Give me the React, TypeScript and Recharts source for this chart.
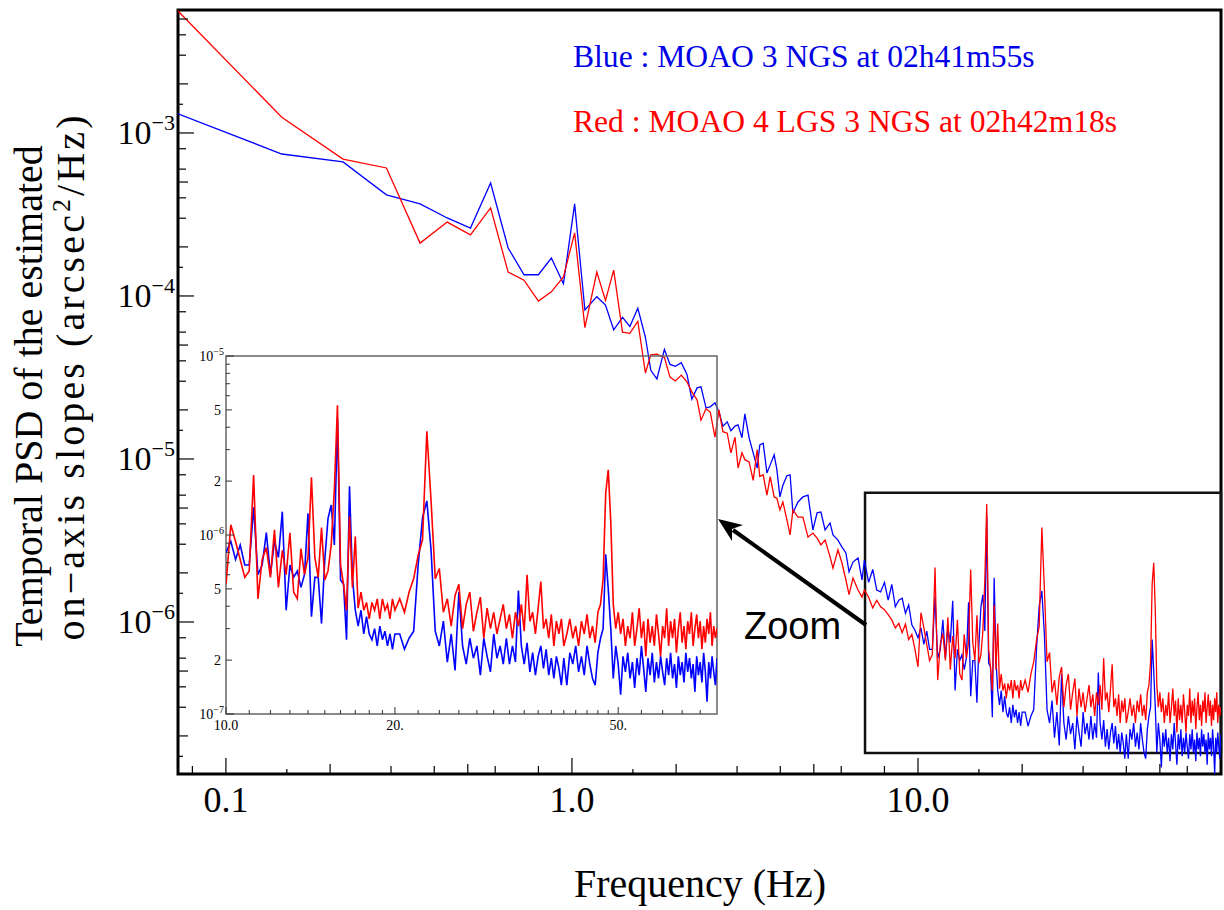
import React from 'react';
import { LineChart, Line, XAxis, YAxis, ReferenceArea } from 'recharts';

const SERIF = '"Liberation Serif", "Times New Roman", serif';
const SANS = '"Liberation Sans", Arial, sans-serif';

// PSD values (arcsec^2/Hz)
// first frequency bins, 0.0727 Hz resolution
const lowFreq = [0.0727, 0.145, 0.218, 0.291, 0.364, 0.436, 0.509, 0.582, 0.654, 0.727, 0.8, 0.872, 0.945, 1.018, 1.09];
const lowBlue = [1.31e-3, 7.43e-4, 6.64e-4, 4.17e-4, 3.67e-4, 3.01e-4, 2.61e-4, 4.93e-4, 1.97e-4, 1.35e-4, 1.35e-4, 1.71e-4, 1.19e-4, 3.67e-4, 8.2e-5];
const lowRed = [5.6e-3, 1.25e-3, 6.92e-4, 6.1e-4, 2.11e-4, 2.84e-4, 2.37e-4, 3.47e-4, 1.4e-4, 1.25e-4, 9.3e-5, 1.06e-4, 1.31e-4, 2.44e-4, 6.4e-5];

// 1.2 - 7 Hz
const midFreq = [
  1.18, 1.25, 1.32, 1.40, 1.47, 1.55, 1.63, 1.69, 1.76, 1.85,
  1.92, 1.99, 2.07, 2.15, 2.22, 2.30, 2.36, 2.44, 2.51, 2.59,
  2.66, 2.73, 2.81, 2.88, 2.96, 3.02, 3.10, 3.16, 3.25, 3.34,
  3.43, 3.49, 3.57, 3.66, 3.74, 3.84, 3.91, 3.99, 4.07, 4.18,
  4.27, 4.35, 4.50, 4.65, 4.81, 4.97, 5.11, 5.24, 5.39, 5.57,
  5.68, 5.87, 6.03, 6.19, 6.32, 6.49, 6.71, 6.89,
];
const midBlue = [
  9.9e-5, 8.8e-5, 6.2e-5, 7.4e-5, 6.5e-5, 8.4e-5, 5.6e-5, 3.5e-5, 3.1e-5, 4.7e-5,
  3.8e-5, 3.7e-5, 3.9e-5, 3.3e-5, 2.33e-5, 2.73e-5, 2.77e-5, 2.06e-5, 2.09e-5, 2.21e-5,
  1.94e-5, 1.59e-5, 1.69e-5, 1.49e-5, 1.59e-5, 1.62e-5, 1.35e-5, 1.89e-5, 1.35e-5, 1.09e-5,
  8.8e-6, 1.22e-5, 1.25e-5, 8.2e-6, 9.2e-6, 1.06e-5, 8.6e-6, 5.85e-6, 6.9e-6, 7.9e-6,
  8.0e-6, 4.67e-6, 5.45e-6, 5.85e-6, 6.0e-6, 3.67e-6, 4.67e-6, 4.73e-6, 3.67e-6, 4.05e-6,
  3.42e-6, 3.18e-6, 2.88e-6, 2.65e-6, 2.03e-6, 2.33e-6, 2.47e-6, 1.81e-6,
];
const midRed = [
  1.4e-4, 9.4e-5, 1.44e-4, 6.0e-5, 5.9e-5, 7.0e-5, 3.37e-5, 4.35e-5, 4.4e-5, 4.2e-5,
  3.18e-5, 3.01e-5, 3.27e-5, 2.97e-5, 2.58e-5, 2.3e-5, 1.73e-5, 2.03e-5, 1.94e-5, 1.36e-5,
  2.0e-5, 1.47e-5, 1.44e-5, 1.09e-5, 1.36e-5, 8.8e-6, 1.09e-5, 9.9e-6, 9.6e-6, 7.4e-6,
  1.14e-5, 7.8e-6, 8.0e-6, 6.0e-6, 7.8e-6, 5.85e-6, 5.75e-6, 4.87e-6, 5.45e-6, 4.23e-6,
  3.42e-6, 4.87e-6, 4.4e-6, 4.4e-6, 3.32e-6, 3.51e-6, 3.27e-6, 2.97e-6, 3.18e-6, 2.51e-6,
  2.14e-6, 2.77e-6, 2.3e-6, 1.81e-6, 1.47e-6, 1.86e-6, 1.57e-6, 1.42e-6,
];

// 7 - 75 Hz, values in units of 1e-7 (shared by the main plot and the zoom inset)
const hfFreq = [
  7.0, 7.2, 7.4, 7.6, 7.8, 8.0, 8.2, 8.4, 8.6, 8.8, 9.0, 9.2, 9.4, 9.6, 9.8,
  10.0, 10.2, 10.4, 10.6, 10.8, 11.0, 11.2, 11.4, 11.6, 11.8,
  12.0, 12.2, 12.4, 12.6, 12.8, 13.0, 13.2, 13.4, 13.6, 13.8,
  14.0, 14.2, 14.4, 14.6, 14.8, 15.0, 15.2, 15.4, 15.6, 15.8,
  16.0, 16.2, 16.4, 16.6, 16.8, 17.0, 17.2, 17.4, 17.6, 17.8,
  18.0, 18.2, 18.4, 18.6, 18.8, 19.0, 19.2, 19.4, 19.6, 19.8, 20.0,
  20.4, 20.8, 21.2, 21.6, 22.0, 22.4, 22.8, 23.2, 23.6, 24.0,
  24.4, 24.8, 25.2, 25.6, 26.0, 26.4, 26.8, 27.2, 27.6, 28.0,
  28.4, 28.8, 29.2, 29.6, 30.0, 30.4, 30.8, 31.2, 31.6, 32.0,
  32.4, 32.8, 33.2, 33.6, 34.0, 34.4, 34.8, 35.2, 35.6, 36.0,
  36.4, 36.8, 37.2, 37.6, 38.0, 38.4, 38.8, 39.2, 39.6, 40.0,
  40.5, 41.0, 41.5, 42.0, 42.5, 43.0, 43.5, 44.0, 44.5, 45.0,
  45.5, 46.0, 46.5, 47.0, 47.5, 48.0, 48.5, 49.0, 49.5, 50.0,
  50.5, 51.0, 51.5, 52.0, 52.5, 53.0, 53.5, 54.0, 54.5, 55.0,
  55.5, 56.0, 56.5, 57.0, 57.5, 58.0, 58.5, 59.0, 59.5, 60.0,
  60.5, 61.0, 61.5, 62.0, 62.5, 63.0, 63.5, 64.0, 64.5, 65.0,
  65.5, 66.0, 66.5, 67.0, 67.5, 68.0, 68.5, 69.0, 69.5, 70.0,
  70.5, 71.0, 71.5, 72.0, 72.5, 73.0, 73.5, 74.0, 74.5, 75.0,
];
const hfBlue = [
  24, 17.5, 21, 15.7, 15.3, 17.5, 13.6, 17, 12.4, 13.6, 14, 11.3, 12.7, 9.6, 8.9,
  8.0, 9.2, 7.3, 8.8, 6.8, 6.8, 14.3, 6.0, 6.8, 10.3,
  6.0, 9.2, 7.5, 13.5, 3.8, 6.8, 5.8, 6.3, 5.1, 6.0,
  13.2, 3.5, 5.8, 5.8, 3.2, 7.3, 12.4, 14.7, 8.8, 45,
  5.6, 5.3, 2.6, 18.7, 5.8, 3.8, 3.1, 3.8, 2.8, 3.5,
  2.8, 2.6, 3.0, 2.4, 3.1, 2.6, 2.9, 2.4, 2.8, 2.3, 2.8,
  2.8, 2.3, 2.65, 2.9, 6.8, 12.5, 15.5, 8.2, 2.9, 2.4,
  3.3, 1.95, 2.8, 1.75, 4.8, 2.4, 1.9, 2.65, 2.05, 2.4,
  1.65, 2.65, 2.1, 1.72, 2.8, 2.05, 2.4, 1.9, 2.65, 1.9,
  2.4, 1.95, 4.9, 2.4, 1.9, 2.5, 1.72, 2.2, 1.65, 2.1,
  2.4, 1.8, 2.3, 1.65, 2.05, 1.58, 2.1, 1.8, 1.45, 2.05,
  1.45, 2.2, 1.9, 2.4, 1.72, 2.1, 1.65, 2.4, 1.9, 1.58,
  1.45, 2.2, 2.65, 3.0, 7.8, 5.0, 3.0, 1.58, 2.4, 1.9,
  1.28, 2.1, 1.72, 2.2, 1.58, 1.95, 1.4, 2.05, 1.65, 2.4,
  1.8, 1.33, 2.05, 1.65, 2.2, 1.5, 1.95, 1.58, 2.1, 1.72,
  1.45, 2.05, 1.65, 2.2, 1.58, 1.9, 1.4, 2.1, 1.65, 1.95,
  1.5, 2.2, 1.72, 2.05, 1.58, 1.9, 1.33, 2.1, 1.65, 1.95,
  1.5, 2.2, 1.72, 1.17, 1.95, 1.58, 2.1, 1.72, 1.45, 2.05,
];
const hfRed = [
  15.7, 14.2, 12.2, 13.6, 12.4, 11.9, 11.1, 10.3, 9.2, 9.8, 8.6, 9.7, 7.8, 8.4, 6.8,
  5.3, 11.4, 9.2, 7.3, 5.8, 6.3, 21.6, 4.4, 7.3, 8.5,
  5.8, 10.7, 5.1, 8.2, 6.0, 10.3, 4.8, 4.4, 8.4, 6.0,
  7.5, 21, 7.5, 5.8, 11, 5.6, 6.3, 8.8, 18, 53,
  6.8, 5.3, 3.8, 12.7, 5.1, 9.8, 3.9, 4.8, 3.8, 4.2,
  3.4, 4.2, 3.8, 4.4, 3.4, 4.4, 3.8, 4.1, 3.4, 4.4, 3.8,
  4.4, 3.7, 4.8, 5.7, 7.7, 9.4, 38, 15.5, 5.7, 6.5,
  3.7, 4.4, 3.1, 4.6, 5.3, 3.0, 4.1, 4.8, 2.9, 3.7,
  4.5, 2.65, 3.9, 3.0, 3.7, 2.8, 3.4, 4.1, 3.0, 3.6,
  2.65, 3.7, 3.1, 4.1, 2.9, 6.0, 3.3, 3.7, 2.8, 3.9,
  5.5, 3.0, 3.4, 2.65, 3.6, 2.4, 3.3, 2.8, 3.4, 2.4,
  2.8, 3.4, 2.65, 3.1, 2.4, 3.3, 2.8, 3.6, 2.65, 3.1,
  2.5, 3.7, 4.1, 5.7, 17.1, 23.1, 11.9, 4.1, 3.0, 3.7,
  2.8, 3.4, 2.4, 3.1, 2.65, 3.7, 2.4, 3.0, 3.9, 2.65,
  3.3, 2.1, 3.4, 2.5, 3.1, 2.4, 3.6, 2.8, 2.1, 3.1,
  2.65, 3.9, 2.4, 3.3, 2.65, 3.4, 2.2, 3.0, 3.7, 2.5,
  3.1, 2.3, 3.3, 2.8, 3.7, 2.4, 3.0, 3.6, 2.65, 3.3,
  2.3, 3.1, 2.5, 3.4, 2.8, 3.7, 2.4, 3.1, 2.65, 3.0,
];

// axes
const X_MIN = 0.0727;
const X_MAX = 75.1;
const Y_MIN = 1.168e-7;
const Y_MAX = 5.68e-3;
const mainXTicks = [0.08, 0.1, 0.15, 0.2, 0.3, 0.4, 0.5, 0.6, 0.8, 1, 1.5, 2, 3, 4, 5, 6, 8, 10, 15, 20, 30, 40, 50, 60];
const mainXLabels: { [key: string]: string } = { '0.1': '0.1', '1': '1.0', '10': '10.0' };
const mainYTicks = [
  1.5e-7, 2e-7, 3e-7, 4e-7, 5e-7, 6e-7, 8e-7,
  1e-6, 1.5e-6, 2e-6, 3e-6, 4e-6, 5e-6, 6e-6, 8e-6,
  1e-5, 1.5e-5, 2e-5, 3e-5, 4e-5, 5e-5, 6e-5, 8e-5,
  1e-4, 1.5e-4, 2e-4, 3e-4, 4e-4, 5e-4, 6e-4, 8e-4,
  1e-3, 1.5e-3, 2e-3, 3e-3, 4e-3, 5e-3,
];
const insetXTicks = [10, 11, 12, 13, 14, 15, 16, 17, 18, 19, 20, 22, 24, 26, 28, 30, 32, 34, 36, 38, 40, 42, 44, 46, 48, 50, 55, 60, 65, 70];
const insetXLabels: { [key: string]: string } = { '10': '10.0', '20': '20.', '50': '50.' };
const insetYTicks = [
  1e-7, 2e-7, 3e-7, 4e-7, 5e-7, 6e-7, 7e-7, 8e-7, 9e-7,
  1e-6, 2e-6, 3e-6, 4e-6, 5e-6, 6e-6, 7e-6, 8e-6, 9e-6, 1e-5,
];

// zoom window drawn on the main plot
const zoomBox = { x1: 7.03, x2: 75.1, y1: 1.57e-7, y2: 6.2e-6 };

const toPoints = (fs: number[], vs: number[], unit = 1) => fs.map((f, i) => ({ f, v: vs[i] * unit }));

const hfBluePts = toPoints(hfFreq, hfBlue, 1e-7);
const hfRedPts = toPoints(hfFreq, hfRed, 1e-7);
const mainBlue = [...toPoints(lowFreq, lowBlue), ...toPoints(midFreq, midBlue), ...hfBluePts];
const mainRed = [...toPoints(lowFreq, lowRed), ...toPoints(midFreq, midRed), ...hfRedPts];
const insetBlue = hfBluePts.filter((p) => p.f >= 10);
const insetRed = hfRedPts.filter((p) => p.f >= 10);

const mantissa = (v: number) => {
  const e = Math.floor(Math.log10(v) + 1e-9);
  return Math.round((v / Math.pow(10, e)) * 10) / 10;
};
const exponent = (v: number) => Math.round(Math.log10(v));
const tickLen = (m: number) => (m === 1 ? 16 : m === 1.5 ? 5 : m === 2 || m === 5 ? 10 : 8);

// ticks are drawn inward from the axis position handed over by recharts
const MainXTick = (props: any) => {
  const { x, y, payload } = props;
  const label = mainXLabels[String(payload.value)];
  return (
    <g>
      <line x1={x} x2={x} y1={y} y2={y - tickLen(mantissa(payload.value))} stroke="#000" strokeWidth={1.2} />
      {label && (
        <text x={x} y={y + 38} textAnchor="middle" fontFamily={SERIF} fontSize={36} fill="#000">
          {label}
        </text>
      )}
    </g>
  );
};

const MainYTick = (props: any) => {
  const { x, y, payload } = props;
  const m = mantissa(payload.value);
  return (
    <g>
      <line x1={x} x2={x + tickLen(m)} y1={y} y2={y} stroke="#000" strokeWidth={1.2} />
      {m === 1 && (
        <text x={x - 3} y={y + 11} textAnchor="end" fontFamily={SERIF} fontSize={34} fill="#000">
          10<tspan dy={-14} fontSize={22}>{`\u2212${-exponent(payload.value)}`}</tspan>
        </text>
      )}
    </g>
  );
};

const InsetXTick = (props: any) => {
  const { x, y, payload } = props;
  const label = insetXLabels[String(payload.value)];
  return (
    <g>
      <line x1={x} x2={x} y1={y} y2={y - (label ? 7 : 4)} stroke="#333" strokeWidth={1} />
      {label && (
        <text x={x} y={y + 16} textAnchor="middle" fontFamily={SERIF} fontSize={14} fill="#000">
          {label}
        </text>
      )}
    </g>
  );
};

const InsetYTick = (props: any) => {
  const { x, y, payload } = props;
  const m = mantissa(payload.value);
  const len = m === 1 ? 8 : m === 2 || m === 5 ? 6 : 4;
  return (
    <g>
      <line x1={x} x2={x + len} y1={y} y2={y} stroke="#333" strokeWidth={1} />
      {m === 1 && (
        <text x={x - 2} y={y + 5} textAnchor="end" fontFamily={SERIF} fontSize={14} fill="#000">
          10<tspan dy={-6} fontSize={10}>{`\u2212${-exponent(payload.value)}`}</tspan>
        </text>
      )}
      {(m === 2 || m === 5) && (
        <text x={x - 5} y={y + 5} textAnchor="end" fontFamily={SERIF} fontSize={14} fill="#000">
          {m}
        </text>
      )}
    </g>
  );
};

export default function App() {
  return (
    <div style={{ position: 'absolute', left: 0, top: 0, width: 1224, height: 910, background: '#fff' }}>
      <div style={{ position: 'absolute', left: 0, top: 0 }}>
        <LineChart width={1224} height={910} margin={{ top: 10, right: 3, bottom: 106, left: 118 }}>
          <XAxis
            dataKey="f"
            type="number"
            scale="log"
            domain={[X_MIN, X_MAX]}
            allowDataOverflow
            ticks={mainXTicks}
            interval={0}
            tick={(p: any) => <MainXTick {...p} />}
            tickSize={0}
            tickMargin={0}
            tickLine={false}
            axisLine={false}
            height={30}
          />
          <YAxis
            type="number"
            scale="log"
            domain={[Y_MIN, Y_MAX]}
            allowDataOverflow
            ticks={mainYTicks}
            interval={0}
            tick={(p: any) => <MainYTick {...p} />}
            tickSize={0}
            tickMargin={0}
            tickLine={false}
            axisLine={false}
            width={60}
          />
          <ReferenceArea x1={X_MIN} x2={X_MAX} y1={Y_MIN} y2={Y_MAX} fill="none" stroke="#000" strokeWidth={3} ifOverflow="visible" />
          <ReferenceArea {...zoomBox} fill="none" stroke="#111" strokeWidth={2.5} ifOverflow="visible" />
          <Line data={mainBlue} dataKey="v" stroke="#0000ff" strokeWidth={1.3} dot={false} isAnimationActive={false} />
          <Line data={mainRed} dataKey="v" stroke="#ff0000" strokeWidth={1.3} dot={false} isAnimationActive={false} />
        </LineChart>
      </div>

      <div style={{ position: 'absolute', left: 160, top: 340 }}>
        <LineChart width={567} height={404} margin={{ top: 16, right: 10, bottom: 10, left: 26 }}>
          <XAxis
            dataKey="f"
            type="number"
            scale="log"
            domain={[10, 75]}
            allowDataOverflow
            ticks={insetXTicks}
            interval={0}
            tick={(p: any) => <InsetXTick {...p} />}
            tickSize={0}
            tickMargin={0}
            tickLine={false}
            axisLine={false}
            height={20}
          />
          <YAxis
            type="number"
            scale="log"
            domain={[1e-7, 1e-5]}
            allowDataOverflow
            ticks={insetYTicks}
            interval={0}
            tick={(p: any) => <InsetYTick {...p} />}
            tickSize={0}
            tickMargin={0}
            tickLine={false}
            axisLine={false}
            width={40}
          />
          <ReferenceArea x1={10} x2={75} y1={1e-7} y2={1e-5} fill="none" stroke="#666" strokeWidth={1.5} ifOverflow="visible" />
          <Line data={insetBlue} dataKey="v" stroke="#0000ff" strokeWidth={1.6} dot={false} isAnimationActive={false} />
          <Line data={insetRed} dataKey="v" stroke="#ff0000" strokeWidth={1.6} dot={false} isAnimationActive={false} />
        </LineChart>
      </div>

      <svg width={1224} height={910} style={{ position: 'absolute', left: 0, top: 0, pointerEvents: 'none' }}>
        <text x={573} y={67} fontFamily={SERIF} fontSize={31.6} fill="#0000e6">
          Blue : MOAO 3 NGS at 02h41m55s
        </text>
        <text x={573} y={132} fontFamily={SERIF} fontSize={31.6} fill="#ff0000">
          Red : MOAO 4 LGS 3 NGS at 02h42m18s
        </text>

        <line x1={866} y1={625} x2={733} y2={530} stroke="#000" strokeWidth={4} />
        <polygon points="718,519 743,525 732,529 732,541" fill="#000" />
        <text x={744} y={639} fontFamily={SANS} fontSize={38} fill="#000">
          Zoom
        </text>

        <text transform="translate(42,396) rotate(-90)" textAnchor="middle" fontFamily={SERIF} fontSize={40} fill="#000">
          Temporal PSD of the estimated
        </text>
        <text
          transform="translate(84,378) rotate(-90)"
          textAnchor="middle"
          fontFamily={SERIF}
          fontSize={40}
          fill="#000"
          textLength={525}
          lengthAdjust="spacing"
        >
          on{'\u2212'}axis slopes (arcsec<tspan dy={-14} fontSize={26}>2</tspan>
          <tspan dy={14}>/Hz)</tspan>
        </text>
        <text x={700} y={897} textAnchor="middle" fontFamily={SERIF} fontSize={40} fill="#000">
          Frequency (Hz)
        </text>
      </svg>
    </div>
  );
}
